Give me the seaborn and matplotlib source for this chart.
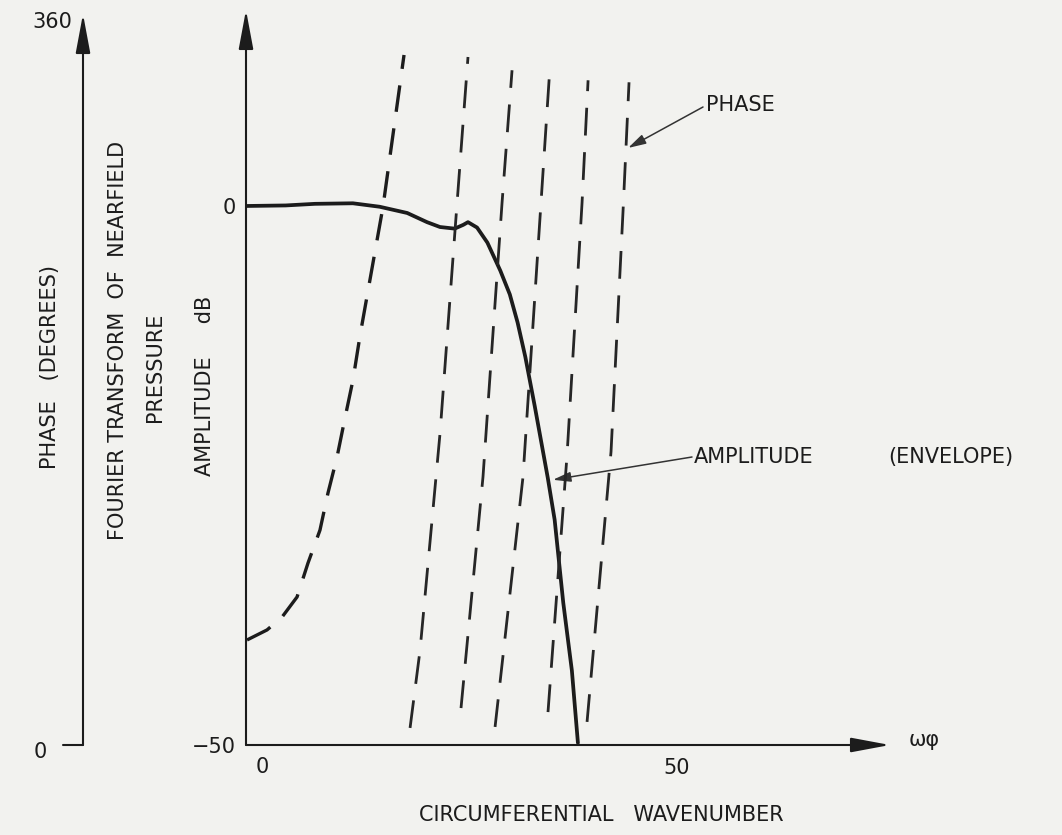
import matplotlib
matplotlib.use("Agg")
import matplotlib.pyplot as plt
import matplotlib.transforms as mtransforms
import seaborn as sns

# Amplitude envelope (dB) of the Fourier transform of nearfield pressure
amp_wavenumber = [0.0, 4.6, 8.0, 12.4, 15.5, 18.7, 21.0, 22.5, 24.2, 25.2, 25.75,
                  26.8, 28.0, 29.5, 30.6, 31.5, 32.4, 33.5, 35.0, 35.8, 36.8, 37.8, 38.5]
amp_db = [0.0, 0.05, 0.2, 0.25, -0.07, -0.65, -1.5, -1.95, -2.1, -1.75, -1.5,
          -2.0, -3.4, -6.0, -8.2, -10.8, -14.0, -18.6, -25.2, -29.1, -36.8, -43.1, -49.8]

# Phase (degrees), wrapped into 0..360 branches
phase0_k = [0.12, 2.44, 4.18, 5.92, 7.19, 8.58, 9.51, 10.56, 11.48, 12.41, 13.23, 15.89, 18.33]
phase0_deg = [52.3, 57.3, 63.7, 73.7, 90.6, 107.0, 125.5, 143.4, 162.8, 181.8, 204.0, 268.0, 343.6]
phase1_k = [19.03, 20.19, 22.51, 24.25, 25.75]
phase1_deg = [8.5, 47.3, 155.4, 256.5, 342.6]
phase2_k = [24.94, 27.49, 29.70, 30.86]
phase2_deg = [18.4, 133.5, 270.0, 336.0]
phase3_k = [28.89, 32.13, 34.11, 35.27]
phase3_deg = [9.0, 133.5, 263.0, 338.6]
phase4_k = [35.03, 37.24, 38.98, 39.68]
phase4_deg = [16.4, 144.4, 270.0, 331.0]
phase5_k = [39.56, 42.34, 43.74, 44.43]
phase5_deg = [11.5, 146.0, 266.4, 330.0]

x_ticks = [50]
amp_ticks = [-50, 0]
amp_tick_labels = ["\u221250", "0"]

INK = "#1c1c1c"
PAPER = "#f2f2ef"

sns.set_style("white")
plt.rcParams["font.family"] = ["DejaVu Sans"]

W, H = 1062, 835
fig = plt.figure(figsize=(W / 100, H / 100), dpi=100, facecolor=PAPER)


def P(x, y):
    """Pixel position (from top-left) to figure fraction."""
    return x / W, 1 - y / H


ax = fig.add_axes([246 / W, (H - 745) / H, (890 - 246) / W, (745 - 10) / H])
ax.set_facecolor("none")
ax.set_xlim(0, 74.7)
ax.set_ylim(-50, 18.18)

axp = ax.twinx()
axp.set_ylim(0, 366.0)
axp.set_facecolor("none")
for a in (ax, axp):
    for s in a.spines.values():
        s.set_visible(False)
axp.set_yticks([])

# amplitude envelope
sns.lineplot(x=amp_wavenumber, y=amp_db, ax=ax, color=INK, lw=2.7,
             sort=False, estimator=None)

# phase branches
sns.lineplot(x=phase0_k, y=phase0_deg, ax=axp, color=INK, lw=2.4, sort=False,
             estimator=None, linestyle=(0, (8, 5)))
for k, d in [(phase1_k, phase1_deg), (phase2_k, phase2_deg), (phase3_k, phase3_deg),
             (phase4_k, phase4_deg), (phase5_k, phase5_deg)]:
    sns.lineplot(x=k, y=d, ax=axp, color="#262626", lw=2.0, sort=False,
                 estimator=None, linestyle=(0, (10, 6)))

# axis lines with arrow heads
head = dict(arrowstyle="-|>,head_length=1.5,head_width=0.28", mutation_scale=16,
            color=INK, lw=1.5, shrinkA=0, shrinkB=0)
ax.annotate("", xy=(1, 0), xytext=(0, 0), xycoords="axes fraction",
            arrowprops=head, annotation_clip=False)
ax.annotate("", xy=(0, 1), xytext=(0, 0), xycoords="axes fraction",
            arrowprops=head, annotation_clip=False)
px_axis = (83 - 246) / (890 - 246)
px_tick = (63 - 246) / (890 - 246)
blend = mtransforms.blended_transform_factory(axp.transAxes, axp.transData)
axp.annotate("", xy=(px_axis, 364), xytext=(px_axis, 0),
             xycoords=blend, textcoords=blend, arrowprops=head, annotation_clip=False)
axp.plot([px_tick, px_axis], [0, 0], transform=blend, color=INK, lw=1.5, clip_on=False)

fs = 15

# ticks
ax.set_xticks(x_ticks)
ax.set_xticklabels([str(t) for t in x_ticks])
ax.tick_params(axis="x", direction="in", length=8, width=1.3, colors=INK,
               labelsize=fs, pad=9)
ax.set_yticks(amp_ticks)
ax.set_yticklabels(amp_tick_labels)
ax.tick_params(axis="y", length=0, labelsize=fs, pad=7, colors=INK)
ax.set_xlabel("")
ax.set_ylabel("")

fig.text(*P(262, 767), "0", ha="center", va="center", fontsize=fs, color=INK)
fig.text(*P(72, 22), "360", ha="right", va="center", fontsize=fs, color=INK)
fig.text(*P(40, 752), "0", ha="center", va="center", fontsize=fs, color=INK)
fig.text(*P(924, 740), "\u03c9\u03c6", ha="center", va="center", fontsize=fs, color=INK)

fig.text(*P(50, 367), "PHASE   (DEGREES)", rotation=90, ha="center", va="center",
         fontsize=fs, color=INK)
fig.text(*P(118, 340), "FOURIER TRANSFORM  OF  NEARFIELD", rotation=90, ha="center",
         va="center", fontsize=fs, color=INK)
fig.text(*P(155, 367), "PRESSURE", rotation=90, ha="center", va="center",
         fontsize=fs, color=INK)
fig.text(*P(205, 386), "AMPLITUDE     dB", rotation=90, ha="center", va="center",
         fontsize=fs, color=INK)
fig.text(*P(601, 815), "CIRCUMFERENTIAL   WAVENUMBER", ha="center", va="center",
         fontsize=fs, color=INK)

# callouts
pointer = dict(arrowstyle="-|>,head_length=0.9,head_width=0.25", mutation_scale=12,
               color="#333333", lw=1.1, shrinkA=0, shrinkB=0)
axp.annotate("", xy=(44.32, 297.3), xytext=(703, H - 107), textcoords="figure pixels",
             arrowprops=pointer)
fig.text(*P(706, 105), "PHASE", ha="left", va="center", fontsize=fs, color=INK)
ax.annotate("", xy=(35.6, -25.4), xytext=(692, H - 457), textcoords="figure pixels",
            arrowprops=pointer)
fig.text(*P(694, 457), "AMPLITUDE", ha="left", va="center", fontsize=fs, color=INK)
fig.text(*P(888, 457), "(ENVELOPE)", ha="left", va="center", fontsize=fs, color=INK)

fig.savefig("out.png", dpi=100, facecolor=PAPER)
